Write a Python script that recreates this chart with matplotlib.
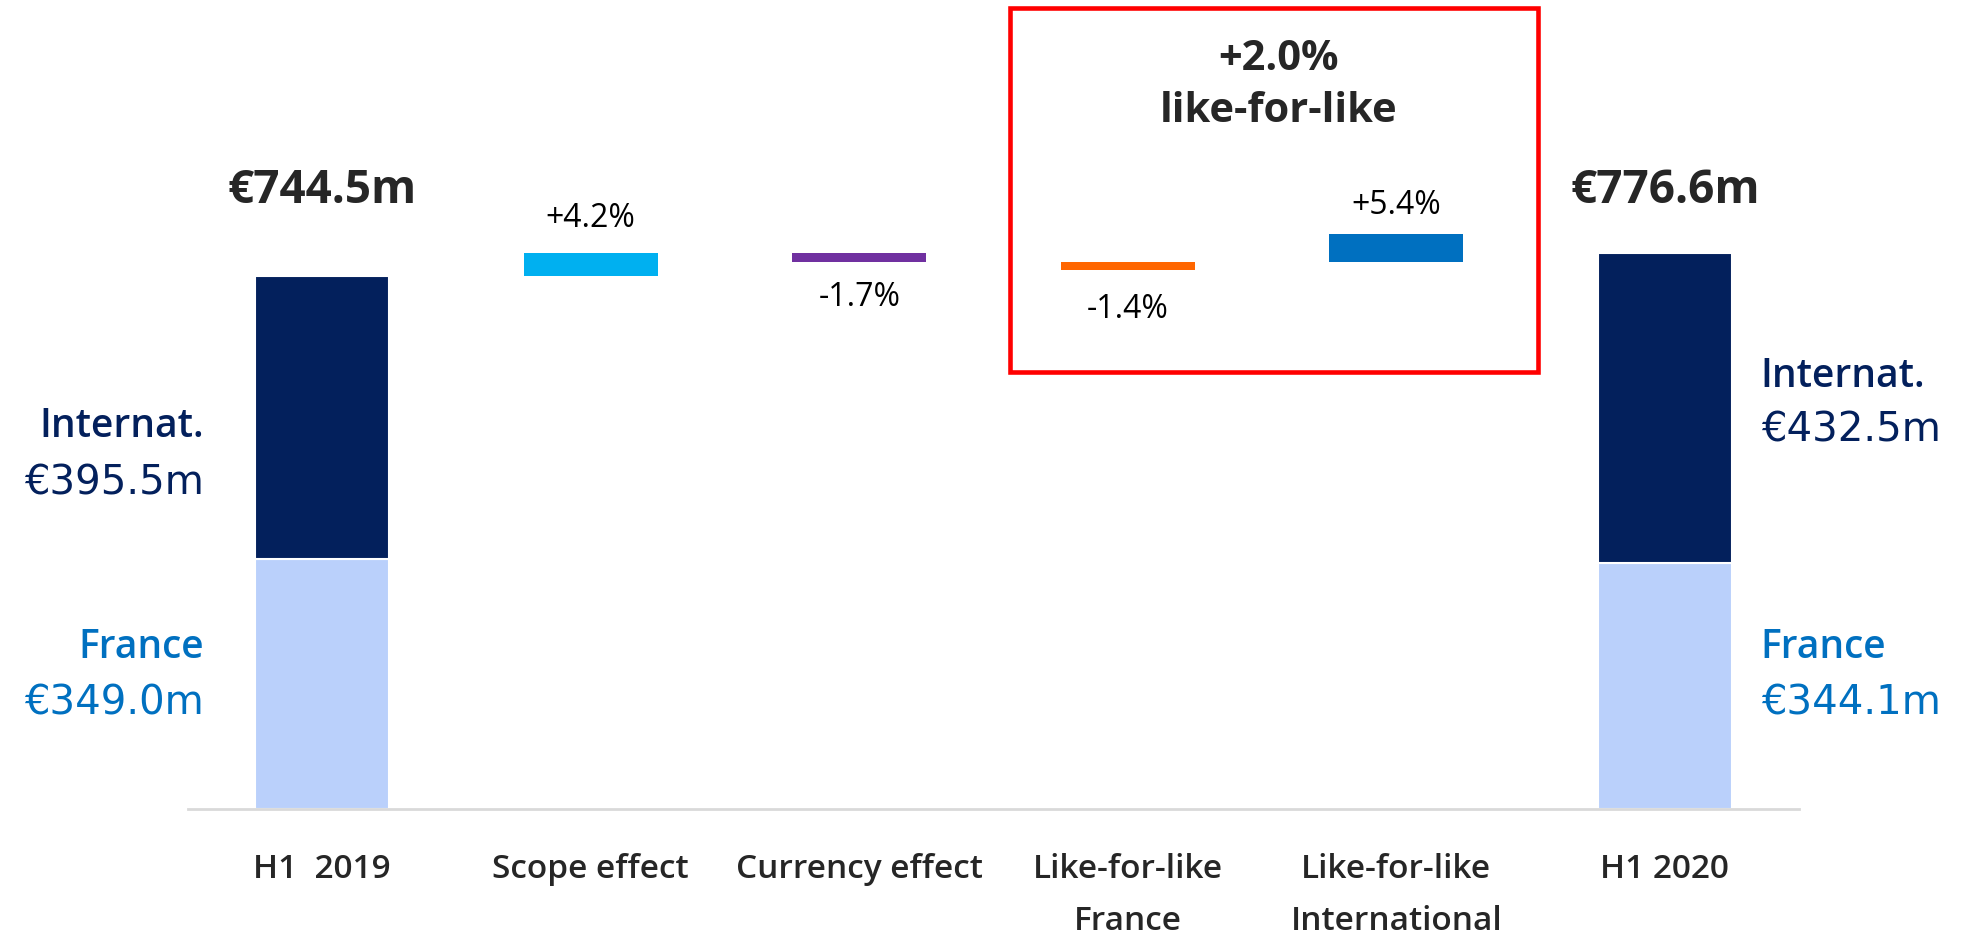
import matplotlib
matplotlib.use("Agg")
import matplotlib.pyplot as plt
from matplotlib.patches import Rectangle

# ---- data ----
categories = ["H1  2019", "Scope effect", "Currency effect",
              "Like-for-like\nFrance", "Like-for-like\nInternational", "H1 2020"]
france_sales = [349.0, 344.1]          # €m, H1 2019 / H1 2020
international_sales = [395.5, 432.5]  # €m, H1 2019 / H1 2020
total_sales = [744.5, 776.6]          # €m
effect_pct = [4.2, -1.7, -1.4, 5.4]   # scope, currency, LFL France, LFL International
effect_labels = ["+4.2%", "-1.7%", "-1.4%", "+5.4%"]
lfl_total_label = "+2.0%\nlike-for-like"

# ---- colours ----
NAVY = "#03205C"
LIGHT = "#BAD0FB"
FR_TEXT = "#0070C0"
effect_colors = ["#00B0F0", "#7030A0", "#FF6600", "#0070C0"]
DARK = "#262626"

plt.rcParams["font.family"] = ["Open Sans", "DejaVu Sans"]
VALUE_FONT = ["DejaVu Sans"]

fig = plt.figure(figsize=(19.75, 9.37), dpi=100)
ax = fig.add_axes([188 / 1975, 127 / 937, 1611 / 1975, 810 / 937])
ax.set_xlim(-0.5, 5.5)
ax.set_ylim(0, 1130.8)

x = list(range(len(categories)))
width = 0.5

# stacked total bars (first and last)
tot_x = [x[0], x[-1]]
ax.bar(tot_x, france_sales, width, color=LIGHT, edgecolor="white", linewidth=1.5)
ax.bar(tot_x, international_sales, width, bottom=france_sales, color=NAVY,
       edgecolor="white", linewidth=1.5)

# floating effect bars: all effects measured against the H1 2019 base;
# both like-for-like components start from the post-currency level
base = total_sales[0]
deltas = [p / 100 * base for p in effect_pct]
after_scope = base + deltas[0]
after_currency = after_scope + deltas[1]
starts = [base, after_scope, after_currency, after_currency]
eff_x = x[1:5]
ax.bar(eff_x, deltas, width, bottom=starts, color=effect_colors, linewidth=0)

label_gap = [50, 47, 54, 41]
for xi, s, d, lab, g in zip(eff_x, starts, deltas, effect_labels, label_gap):
    y = s + d + g if d >= 0 else s + d - g
    ax.text(xi, y, lab, ha="center", va="center", fontsize=23, color="black")

# total labels
for xi, t in zip(tot_x, total_sales):
    ax.text(xi, 865, f"€{t:.1f}m", ha="center", va="center", fontsize=33,
            fontweight="bold", color=DARK)

# segment labels, left of first bar and right of last bar
name_kw = dict(va="center", fontsize=28, fontweight="semibold")
val_kw = dict(va="center", fontsize=29, family=VALUE_FONT)

ax.text(-0.44, 534, "Internat.", ha="right", color=NAVY, **name_kw)
ax.text(-0.44, 456, f"€{international_sales[0]:.1f}m", ha="right", color=NAVY, **val_kw)
ax.text(-0.44, 226, "France", ha="right", color=FR_TEXT, **name_kw)
ax.text(-0.44, 149, f"€{france_sales[0]:.1f}m", ha="right", color=FR_TEXT, **val_kw)

ax.text(5.358, 605, "Internat.", ha="left", color=NAVY, **name_kw)
ax.text(5.358, 530, f"€{international_sales[1]:.1f}m", ha="left", color=NAVY, **val_kw)
ax.text(5.358, 226, "France", ha="left", color=FR_TEXT, **name_kw)
ax.text(5.358, 149, f"€{france_sales[1]:.1f}m", ha="left", color=FR_TEXT, **val_kw)

# like-for-like highlight box
ax.add_patch(Rectangle((2.561, 610), 4.528 - 2.561, 1118 - 610, fill=False,
                       edgecolor="#FF0000", linewidth=3.3, clip_on=False))
ax.text(3.563, 1011, lfl_total_label, ha="center", va="center", fontsize=30,
        fontweight="bold", color=DARK, linespacing=1.36)

# axes styling
for side in ["top", "right", "left"]:
    ax.spines[side].set_visible(False)
ax.spines["bottom"].set_color("#D9D9D9")
ax.spines["bottom"].set_linewidth(2)
ax.set_yticks([])
ax.set_xticks(x)
ax.set_xticklabels(categories, fontsize=24, fontweight="semibold", color=DARK,
                   linespacing=1.75)
ax.tick_params(axis="x", length=0, pad=31)

fig.savefig("out.png", dpi=100, facecolor="white")
